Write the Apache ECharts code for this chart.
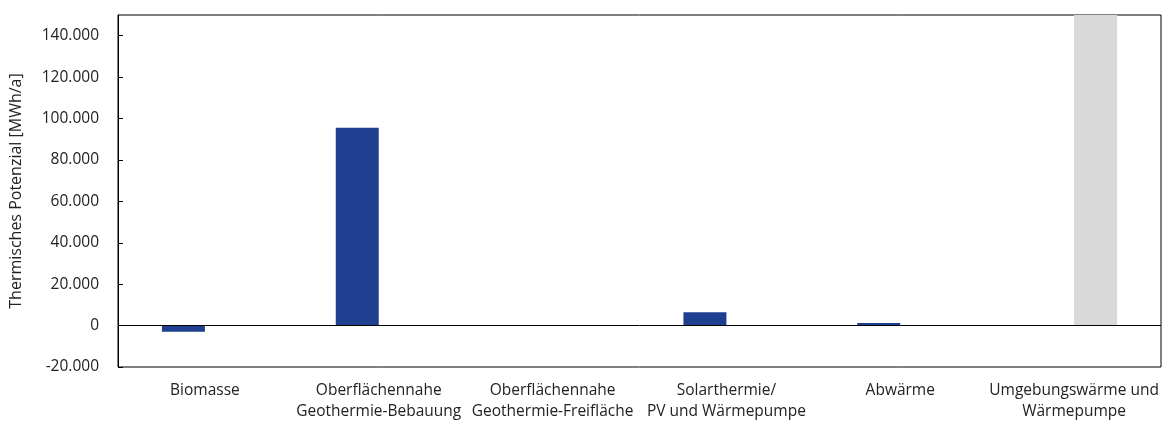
<!DOCTYPE html>
<html><head><meta charset="utf-8">
<script src="https://cdn.jsdelivr.net/npm/echarts@6/dist/echarts.min.js"></script>
<style>html,body{margin:0;padding:0;background:#fff}#c{width:1163px;height:422px}</style>
</head><body><div id="c"></div>
<script>
const categories = ["Biomasse", "Oberflächennahe\nGeothermie-Bebauung", "Oberflächennahe\nGeothermie-Freifläche", "Solarthermie/\nPV und Wärmepumpe", "Abwärme", "Umgebungswärme und\nWärmepumpe"];
const potentialValues = [-3000, 95500, 0, 6500, 1300, null];
const ambientValues = [null, null, null, null, null, 150000];
const yMin = -20000, yMax = 150000, yStep = 20000;
const yAxisName = "Thermisches Potenzial [MWh/a]";

const fmt = v => (v < 0 ? "-" : "") + Math.abs(v).toString().replace(/\B(?=(\d{3})+(?!\d))/g, ".");
const font = "Open Sans";
const chart = echarts.init(document.getElementById('c'), null, {renderer: 'canvas'});
chart.setOption({
  animation: false,
  grid: {left: 114, right: 2, top: 15, bottom: 54, show: true, borderColor: '#000', borderWidth: 1},
  xAxis: {
    type: 'category', data: categories,
    axisLine: {onZero: false, show: false},
    axisTick: {show: false},
    axisLabel: {fontFamily: font, fontSize: 15.5, color: '#222', margin: 13, lineHeight: 21, interval: 0}
  },
  yAxis: {
    type: 'value', min: yMin, max: yMax, interval: yStep,
    name: yAxisName, nameLocation: 'middle', nameGap: 94,
    nameTextStyle: {fontFamily: font, fontSize: 16, color: '#222'},
    axisLine: {show: true, lineStyle: {color: '#000'}},
    axisTick: {show: true, inside: true, length: 5, lineStyle: {color: '#000'}},
    splitLine: {show: false},
    axisLabel: {fontFamily: font, fontSize: 15.5, color: '#222', margin: 19, formatter: fmt, showMaxLabel: false}
  },
  series: [
    {type: 'bar', data: potentialValues, barWidth: 43, barGap: '0%', itemStyle: {color: '#1F4091'},
     markLine: {silent: true, symbol: 'none', label: {show: false}, lineStyle: {color: '#000', type: 'solid', width: 1}, data: [{yAxis: 0}]}},
    {type: 'bar', data: ambientValues, barWidth: 43, barGap: '0%', itemStyle: {color: '#D9D9D9'}}
  ]
});
</script></body></html>
